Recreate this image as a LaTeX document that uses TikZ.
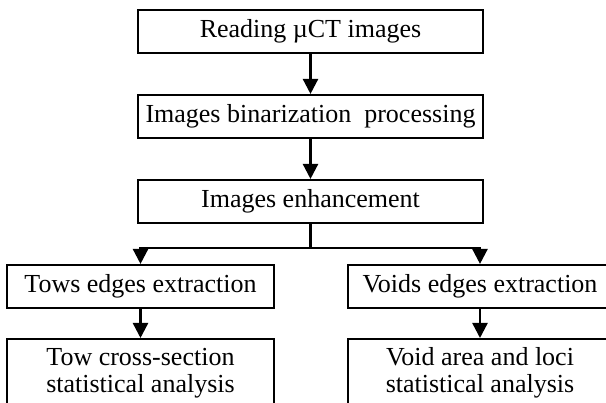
\documentclass[tikz,border=0pt]{standalone}
\usepackage{fontspec}
\setmainfont{Liberation Serif}
\usetikzlibrary{arrows.meta}
\begin{document}
\begin{tikzpicture}[x=1pt,y=-1pt,
  box/.style={draw, line width=2.1pt, rectangle, inner sep=0pt,
    font=\fontsize{26}{27}\selectfont, align=center},
  wide/.style={box, minimum width=345pt, minimum height=43pt},
  half/.style={box, minimum height=43pt},
  tall/.style={box, anchor=north, minimum height=95pt},
  flow/.style={line width=2.4pt, -{Triangle[length=15pt,width=15pt]}},
  link/.style={line width=2.4pt}]
  \useasboundingbox (0,0) rectangle (606,403);
  \clip (0,0) rectangle (606,403);

  % main chain
  \node[wide] (read) at (310.5,31.5) {Reading µCT images};
  \node[wide] (bin)  at (310.5,116.5) {Images binarization\ \ processing};
  \node[wide] (enh)  at (310.5,201.5) {Images enhancement};

  % two branches
  \node[half, minimum width=267pt] (tow)  at (140.5,286.5) {Tows edges extraction};
  \node[half, minimum width=264pt] (void) at (480,286.5) {Voids edges extraction};

  \node[tall, minimum width=267pt] (towstat) at (140.5,338)
    {\rule{0pt}{24pt}Tow cross-section\\statistical analysis\rule[-40pt]{0pt}{0pt}};
  \node[tall, minimum width=264pt] (voidstat) at (480,338)
    {\rule{0pt}{24pt}Void area and loci\\statistical analysis\rule[-40pt]{0pt}{0pt}};

  \coordinate (split) at (310.5,248);

  \draw[flow] (read) -- (bin);
  \draw[flow] (bin) -- (enh);
  \draw[link] (enh) -- (split);
  \draw[flow] (split) -| (tow.north);
  \draw[flow] (split) -| (void.north);
  \draw[flow] (tow) -- (towstat);
  \draw[flow] (void) -- (voidstat);
\end{tikzpicture}
\end{document}
